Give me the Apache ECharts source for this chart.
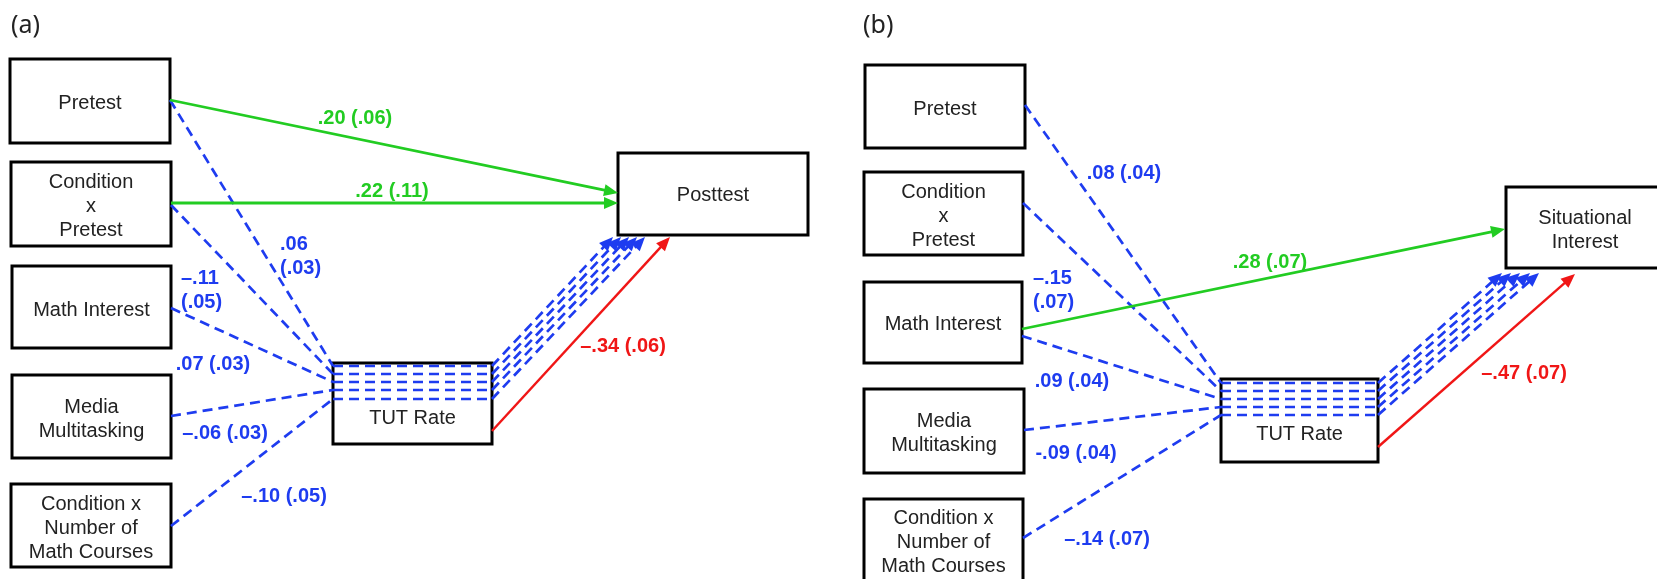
<!DOCTYPE html>
<html>
<head>
<meta charset="utf-8">
<script src="https://cdn.jsdelivr.net/npm/echarts@6/dist/echarts.min.js"></script>
<style>
html,body{margin:0;padding:0;background:#fff;}
#chart{width:1657px;height:579px;}
</style>
</head>
<body>
<div id="chart"></div>
<script>
// ---------- DATA (text and coefficients) ----------
const panelTags = ['(a)', '(b)'];
const predictors = ['Pretest', 'Condition\nx\nPretest', 'Math Interest', 'Media\nMultitasking', 'Condition x\nNumber of\nMath Courses'];
const mediator = 'TUT Rate';
const outcomes = ['Posttest', 'Situational\nInterest'];
// predictor -> TUT Rate coefficients (SE), in predictor order
const toTutA = ['.06\n(.03)', '\u2013.11\n(.05)', '.07 (.03)', '\u2013.06 (.03)', '\u2013.10 (.05)'];
const toTutB = ['.08 (.04)', '\u2013.15\n(.07)', '.09 (.04)', '-.09 (.04)', '\u2013.14 (.07)'];
// direct predictor -> outcome paths
const directA = ['.20 (.06)', '.22 (.11)'];   // Pretest, Condition x Pretest -> Posttest
const directB = ['.28 (.07)'];                // Math Interest -> Situational Interest
// TUT Rate -> outcome
const tutToOutcome = ['\u2013.34 (.06)', '\u2013.47 (.07)'];

// ---------- LAYOUT (pixel-space positions on hidden value axes) ----------
const W = 1657, H = 579;
const layout = {
  tags: [[11, 26], [863, 26]],
  a: {
    boxes: [[10, 59, 170, 143], [11, 162, 171, 246], [12, 266, 171, 348], [12, 375, 171, 458], [11, 484, 171, 567]],
    textY: [103, 206, 310, 419, 528],
    tut: [333, 363, 492, 444], tutTextY: 418,
    out: [618, 153, 808, 235], outTextY: 195,
    predOut: [[170, 100], [171, 205], [171, 308], [171, 416], [171, 526]],
    rows: [366, 374, 382, 390, 399],
    upTargets: [[613, 237], [621, 237], [629, 237], [637, 237], [645, 237]],
    directFrom: [[170, 100], [171, 203]], directTo: [[618, 193], [618, 203]],
    red: [[492, 431], [670, 237]],
    tutLabels: [[280, 256, 'left'], [181, 290, 'left'], [213, 364, 'center'], [225, 433, 'center'], [284, 496, 'center']],
    directLabels: [[355, 118], [392, 191]],
    redLabel: [623, 346]
  },
  b: {
    boxes: [[865, 65, 1025, 148], [864, 172, 1023, 255], [864, 282, 1022, 363], [864, 389, 1024, 473], [864, 499, 1023, 582]],
    textY: [109, 216, 324, 433, 542],
    tut: [1221, 379, 1378, 462], tutTextY: 434,
    out: [1506, 187, 1664, 268], outTextY: 230,
    predOut: [[1025, 105], [1023, 203], [1022, 336], [1024, 430], [1023, 538]],
    rows: [383, 391, 399, 407, 415],
    upTargets: [[1502, 273], [1511, 273], [1520, 273], [1530, 273], [1539, 273]],
    directFrom: [[1022, 329]], directTo: [[1505, 229]],
    red: [[1378, 447], [1575, 274]],
    tutLabels: [[1124, 173, 'center'], [1033, 290, 'left'], [1072, 381, 'center'], [1076, 453, 'center'], [1107, 539, 'center']],
    directLabels: [[1270, 262]],
    redLabel: [1524, 373]
  }
};

const GREEN = '#22cc22', BLUE = '#1e3cf0', RED = '#f01616', INK = '#222222';
const BOX_FONT = '20px "Liberation Sans", Arial, sans-serif';
const LAB_FONT = 'bold 20px "Liberation Sans", Arial, sans-serif';

// ---------- build marks ----------
const boxes = [];   // {rect, text, ty}
const edges = [];   // {p, q, color, dash, arrow, w}
const labels = [];  // {x, y, text, color, align}

function buildPanel(L, toTut, direct, outName, redText) {
  predictors.forEach((name, i) => boxes.push({ rect: L.boxes[i], text: name, ty: L.textY[i] }));
  boxes.push({ rect: L.tut, text: mediator, ty: L.tutTextY });
  boxes.push({ rect: L.out, text: outName, ty: L.outTextY });
  // indirect (dashed) paths through TUT
  predictors.forEach((name, i) => {
    const y = L.rows[i];
    edges.push({ p: L.predOut[i], q: [L.tut[0], y], color: BLUE, dash: true, w: 2.7 });
    edges.push({ p: [L.tut[0], y], q: [L.tut[2], y], color: BLUE, dash: true, w: 2.7 });
    edges.push({ p: [L.tut[2], y], q: L.upTargets[i], color: BLUE, dash: true, arrow: true, w: 2.7 });
    const lp = L.tutLabels[i];
    labels.push({ x: lp[0], y: lp[1], text: toTut[i], color: BLUE, align: lp[2] });
  });
  direct.forEach((t, k) => {
    edges.push({ p: L.directFrom[k], q: L.directTo[k], color: GREEN, arrow: true, w: 2.8 });
    labels.push({ x: L.directLabels[k][0], y: L.directLabels[k][1], text: t, color: GREEN, align: 'center' });
  });
  edges.push({ p: L.red[0], q: L.red[1], color: RED, arrow: true, w: 2.4 });
  labels.push({ x: L.redLabel[0], y: L.redLabel[1], text: redText, color: RED, align: 'center' });
}
buildPanel(layout.a, toTutA, directA, outcomes[0], tutToOutcome[0]);
buildPanel(layout.b, toTutB, directB, outcomes[1], tutToOutcome[1]);
panelTags.forEach((t, i) => labels.push({ x: layout.tags[i][0], y: layout.tags[i][1], text: t, color: INK, align: 'left', tag: true }));

function arrowPts(p, q, len, wid) {
  const dx = q[0] - p[0], dy = q[1] - p[1];
  const d = Math.sqrt(dx * dx + dy * dy) || 1;
  const ux = dx / d, uy = dy / d, nx = -uy, ny = ux;
  const bx = q[0] - ux * len, by = q[1] - uy * len;
  return [[q[0], q[1]], [bx + nx * wid / 2, by + ny * wid / 2], [bx - nx * wid / 2, by - ny * wid / 2]];
}

const chart = echarts.init(document.getElementById('chart'), null, { renderer: 'canvas' });
chart.setOption({
  animation: false,
  backgroundColor: '#ffffff',
  grid: { left: 0, right: 0, top: 0, bottom: 0 },
  xAxis: { type: 'value', min: 0, max: W, show: false },
  yAxis: { type: 'value', min: 0, max: H, inverse: true, show: false },
  series: [
    { // edges
      type: 'custom', coordinateSystem: 'cartesian2d', silent: true, clip: false,
      data: edges.map((e, i) => [e.p[0], e.p[1], i]),
      renderItem: function (params, api) {
        const e = edges[params.dataIndex];
        const p = api.coord(e.p), q = api.coord(e.q);
        const children = [];
        let qq = q;
        if (e.arrow) {
          const dx = q[0] - p[0], dy = q[1] - p[1], d = Math.sqrt(dx * dx + dy * dy);
          qq = [q[0] - dx / d * 9, q[1] - dy / d * 9];
        }
        children.push({
          type: 'line', shape: { x1: p[0], y1: p[1], x2: qq[0], y2: qq[1] },
          style: { stroke: e.color, lineWidth: e.w, lineDash: e.dash ? [10, 6] : null, fill: null }
        });
        if (e.arrow) {
          children.push({ type: 'polygon', shape: { points: arrowPts(p, q, 14, 12) }, style: { fill: e.color } });
        }
        return { type: 'group', children: children };
      }
    },
    { // boxes
      type: 'custom', coordinateSystem: 'cartesian2d', silent: true, clip: false, z: 1,
      data: boxes.map((b, i) => [b.rect[0], b.rect[1], i]),
      renderItem: function (params, api) {
        const b = boxes[params.dataIndex];
        const p0 = api.coord([b.rect[0], b.rect[1]]), p1 = api.coord([b.rect[2], b.rect[3]]);
        const cx = (p0[0] + p1[0]) / 2;
        const ty = api.coord([0, b.ty])[1];
        return {
          type: 'group', children: [
            { type: 'rect', shape: { x: p0[0], y: p0[1], width: p1[0] - p0[0], height: p1[1] - p0[1] },
              style: { fill: 'rgba(0,0,0,0)', stroke: '#000', lineWidth: 3 } },
            { type: 'text', style: { text: b.text, x: cx, y: ty, align: 'center', verticalAlign: 'middle',
              font: BOX_FONT, fill: INK, lineHeight: 24 } }
          ]
        };
      }
    },
    { // labels
      type: 'custom', coordinateSystem: 'cartesian2d', silent: true, clip: false, z: 3,
      data: labels.map((l, i) => [l.x, l.y, i]),
      renderItem: function (params, api) {
        const l = labels[params.dataIndex];
        const p = api.coord([l.x, l.y]);
        return { type: 'text', style: { text: l.text, x: p[0], y: p[1], align: l.align, verticalAlign: 'middle',
          font: l.tag ? '25px "Noto Sans", "Open Sans", sans-serif' : LAB_FONT, fill: l.color, lineHeight: 24 } };
      }
    }
  ]
});
</script>
</body>
</html>
